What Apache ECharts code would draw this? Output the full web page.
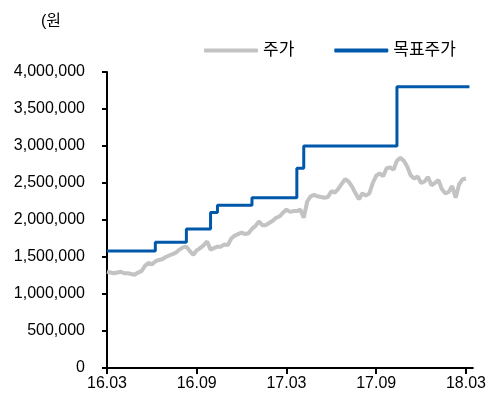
<!DOCTYPE html>
<html>
<head>
<meta charset="utf-8">
<script src="https://cdn.jsdelivr.net/npm/echarts@6/dist/echarts.min.js"></script>
<style>
html,body{margin:0;padding:0;background:#fff;}
#chart{width:489px;height:408px;}
</style>
</head>
<body>
<div id="chart"></div>
<script>
// 주가 (weekly, 16.03 ~ 18.03), 단위: 원
var price = [
	1300000,1290000,1280000,1290000,1300000,1280000,1280000,1270000,1260000,1290000,
	1310000,1380000,1420000,1400000,1440000,1460000,1470000,1500000,1520000,1540000,
	1560000,1600000,1630000,1640000,1580000,1530000,1590000,1620000,1660000,1710000,
	1600000,1620000,1640000,1640000,1670000,1660000,1750000,1790000,1810000,1830000,
	1810000,1820000,1880000,1920000,1980000,1930000,1930000,1960000,1990000,2030000,
	2050000,2100000,2140000,2110000,2120000,2120000,2140000,2030000,2250000,2320000,
	2340000,2320000,2310000,2300000,2310000,2390000,2370000,2420000,2490000,2550000,
	2520000,2450000,2360000,2280000,2360000,2330000,2360000,2500000,2600000,2630000,
	2590000,2700000,2710000,2680000,2800000,2840000,2800000,2720000,2600000,2560000,
	2590000,2500000,2520000,2580000,2470000,2500000,2540000,2420000,2360000,2380000,
	2460000,2300000,2480000,2550000,2560000
];
// 목표주가 변경 시점 (week index) 과 가격
var targetWeek = [0, 14, 23, 30, 32, 42, 55, 57, 84, 105];
var targetPrice = [1580000, 1700000, 1880000, 2100000, 2200000, 2300000, 2700000, 3000000, 3800000, 3800000];
var weekCount = 107;
var tickIndex = [0, 26, 52, 78, 104];
var tickLabels = ['16.03', '16.09', '17.03', '17.09', '18.03'];
var yTicks = [0, 500000, 1000000, 1500000, 2000000, 2500000, 3000000, 3500000, 4000000];

var fontFamily = '"Liberation Sans", Arial, "Noto Sans CJK KR", sans-serif';

var weeks = [];
for (var i = 0; i < weekCount; i++) {
	weeks.push(String(i));
}
var target = [];
for (var j = 0; j < targetWeek.length; j++) {
	target.push([targetWeek[j], targetPrice[j]]);
}

function isTick(idx) {
	return tickIndex.indexOf(idx) > -1;
}
function comma(v) {
	return String(v).replace(/\B(?=(\d{3})+(?!\d))/g, ',');
}

var myChart = echarts.init(document.getElementById('chart'));
var option = {
	animation: false,
	backgroundColor: '#fff',
	textStyle: {fontFamily: fontFamily, color: '#000'},
	title: {
		text: '(원',
		left: 36,
		top: 9,
		textStyle: {fontSize: 16, fontWeight: 'normal', color: '#000', fontFamily: fontFamily}
	},
	legend: {
		left: 204,
		top: 42,
		padding: 0,
		icon: 'roundRect',
		itemWidth: 54,
		itemHeight: 4,
		itemGap: 40,
		textStyle: {fontSize: 17, color: '#000', fontFamily: fontFamily},
		data: ['주가', '목표주가']
	},
	grid: {
		left: 107,
		right: 13,
		top: 72,
		bottom: 40,
		containLabel: false
	},
	xAxis: {
		type: 'category',
		boundaryGap: false,
		data: weeks,
		axisLine: {lineStyle: {color: '#000', width: 2}},
		axisTick: {
			length: 6,
			lineStyle: {color: '#000', width: 2},
			interval: function (idx) { return isTick(idx); }
		},
		axisLabel: {
			margin: 8,
			fontSize: 16,
			color: '#000',
			interval: function (idx) { return isTick(idx); },
			formatter: function (val, idx) {
				var k = tickIndex.indexOf(idx);
				return k > -1 ? tickLabels[k] : '';
			}
		},
		splitLine: {show: false}
	},
	yAxis: {
		type: 'value',
		min: yTicks[0],
		max: yTicks[yTicks.length - 1],
		interval: 500000,
		axisLine: {show: true, lineStyle: {color: '#000', width: 2}},
		axisTick: {show: true, length: 5, lineStyle: {color: '#000', width: 2}},
		axisLabel: {
			margin: 22,
			fontSize: 16,
			color: '#000',
			formatter: function (v) { return comma(v); }
		},
		splitLine: {show: false}
	},
	series: [
		{
			name: '주가',
			type: 'line',
			data: price,
			symbol: 'none',
			lineStyle: {color: '#c3c3c3', width: 4},
			itemStyle: {color: '#c3c3c3'},
			z: 2
		},
		{
			name: '목표주가',
			type: 'line',
			data: target,
			step: 'end',
			symbol: 'none',
			lineStyle: {color: '#0058aa', width: 3},
			itemStyle: {color: '#0058aa'},
			z: 3
		}
	]
};
myChart.setOption(option);
</script>
</body>
</html>
